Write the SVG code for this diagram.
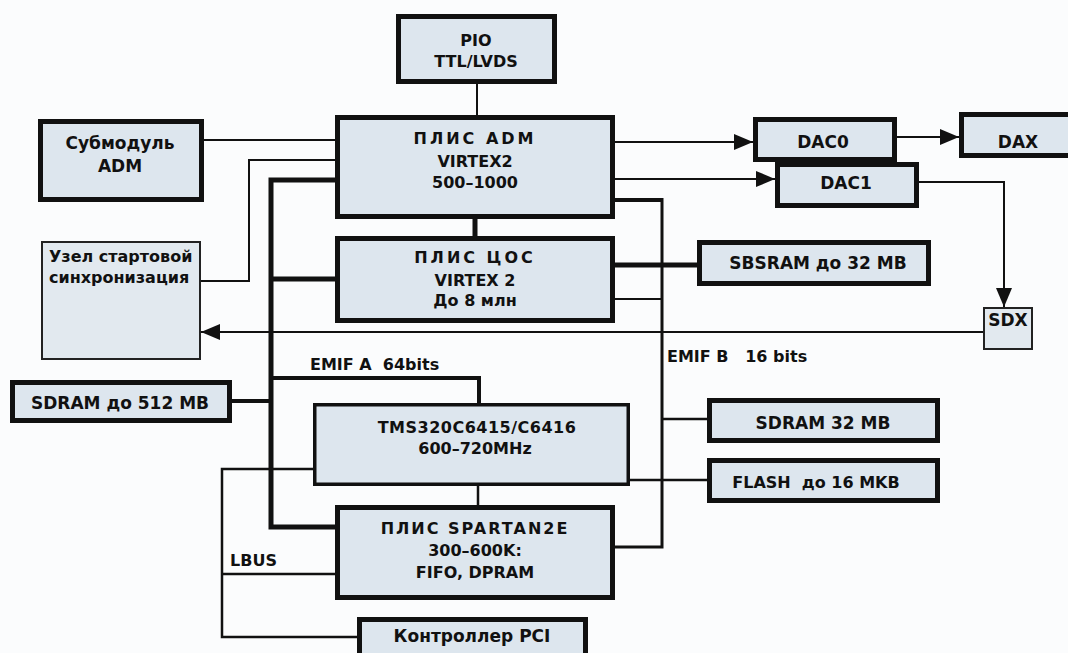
<svg xmlns="http://www.w3.org/2000/svg" width="1068" height="653" viewBox="0 0 1068 653">
<defs>
<style>
.box{fill:#dde6ee;stroke:#111;stroke-width:5}
.tms{fill:#dde6ee;stroke:#111;stroke-width:3.5}
.thin{fill:#e2e9ef;stroke:#222;stroke-width:2}
.t{font-family:"DejaVu Sans","Liberation Sans",sans-serif;font-weight:bold;font-size:17px;fill:#111;text-anchor:middle;white-space:pre}
.m{font-size:16px}
.l{text-anchor:start}
.w{stroke:#111;fill:none;stroke-linejoin:miter}
</style>
<marker id="ah" markerUnits="userSpaceOnUse" markerWidth="20" markerHeight="18" refX="19" refY="8" orient="auto">
<path d="M0,0 L19,8 L0,16 Z" fill="#111"/>
</marker>
</defs>
<rect width="1068" height="653" fill="#fbfcfd"/>
<g id="connectors">
<line class="w" x1="477" y1="84" x2="477" y2="115" stroke-width="2"/>
<line class="w" x1="204" y1="140" x2="335" y2="140" stroke-width="2"/>
<polyline class="w" points="201,281 249,281 249,160 335,160" stroke-width="2"/>
<polyline class="w" points="335,180 271,180 271,527 335,527" stroke-width="5"/>
<line class="w" x1="271" y1="279" x2="335" y2="279" stroke-width="5"/>
<polyline class="w" points="271,378 479,378 479,403" stroke-width="4"/>
<line class="w" x1="232" y1="401" x2="271" y2="401" stroke-width="4"/>
<polyline class="w" points="313,469 222,469 222,637 357,637" stroke-width="2.5"/>
<line class="w" x1="222" y1="574" x2="335" y2="574" stroke-width="2.5"/>
<line class="w" x1="478" y1="486" x2="478" y2="505" stroke-width="2.5"/>
<line class="w" x1="475" y1="219" x2="475" y2="236" stroke-width="5"/>
<line class="w" x1="615" y1="142" x2="753" y2="142" stroke-width="2" marker-end="url(#ah)"/>
<line class="w" x1="615" y1="179" x2="775" y2="179" stroke-width="2" marker-end="url(#ah)"/>
<line class="w" x1="897" y1="137" x2="959" y2="137" stroke-width="2" marker-end="url(#ah)"/>
<polyline class="w" points="919,182 1004,182 1004,307" stroke-width="2" marker-end="url(#ah)"/>
<line class="w" x1="983" y1="332" x2="201" y2="332" stroke-width="2" marker-end="url(#ah)"/>
<polyline class="w" points="615,200 662,200" stroke-width="4"/>
<polyline class="w" points="662,198 662,547 615,547" stroke-width="3"/>
<line class="w" x1="615" y1="299" x2="662" y2="299" stroke-width="2"/>
<line class="w" x1="615" y1="265" x2="697" y2="265" stroke-width="5"/>
<line class="w" x1="662" y1="419" x2="707" y2="419" stroke-width="2.5"/>
<line class="w" x1="630" y1="480" x2="707" y2="480" stroke-width="2.5"/>
<text class="t l m" x="310" y="370" font-size="15" xml:space="preserve">EMIF A  64bits</text>
<text class="t l m" x="667" y="362" font-size="15" xml:space="preserve">EMIF B   16 bits</text>
<text class="t l m" x="230" y="566">LBUS</text>
</g>
<g id="pio"><rect class="box" x="398.5" y="16.5" width="156" height="65"/>
<text class="t m" x="476" y="46">PIO</text><text class="t m" x="476" y="67">TTL/LVDS</text></g>
<g id="submodule"><rect class="box" x="40.5" y="121.5" width="161" height="78"/>
<text class="t" x="120" y="149">Субмодуль</text><text class="t" x="120" y="172">ADM</text></g>
<g id="adm"><rect class="box" x="337.5" y="117.5" width="275" height="99"/>
<text class="t m" x="475" y="144" letter-spacing="3">ПЛИС ADM</text><text class="t m" x="475" y="167">VIRTEX2</text><text class="t m" x="475" y="188">500–1000</text></g>
<g id="dsp"><rect class="box" x="337.5" y="238.5" width="275" height="82"/>
<text class="t m" x="475" y="263" letter-spacing="3">ПЛИС ЦОС</text><text class="t m" x="475" y="286">VIRTEX 2</text><text class="t m" x="475" y="306">До 8 млн</text></g>
<g id="sync"><rect class="thin" x="42" y="242" width="158" height="117"/>
<text class="t l m" x="49" y="262">Узел стартовой</text><text class="t l m" x="49" y="283">синхронизация</text></g>
<g id="dac0"><rect class="box" x="755.5" y="119.5" width="139" height="40"/>
<text class="t" x="823" y="148">DAC0</text></g>
<g id="dac1"><rect class="box" x="777.5" y="164.5" width="139" height="41"/>
<text class="t" x="846" y="189">DAC1</text></g>
<g id="dax"><rect class="box" x="961.5" y="114.5" width="112" height="41"/>
<text class="t" x="1018" y="148">DAX</text></g>
<g id="sbsram"><rect class="box" x="699.5" y="242.5" width="229" height="41"/>
<text class="t" x="818" y="269">SBSRAM до 32 MB</text></g>
<g id="sdx"><rect class="thin" x="984" y="308" width="48" height="41"/>
<text class="t" x="1008" y="326" font-size="12">SDX</text></g>
<g id="sdram512"><rect class="box" x="12.5" y="382.5" width="217" height="38"/>
<text class="t" x="120" y="409">SDRAM до 512 MB</text></g>
<g id="tms"><rect class="tms" x="314.75" y="404.75" width="313.5" height="79.5"/>
<text class="t m" x="477" y="433" letter-spacing="0.5">TMS320C6415/C6416</text><text class="t m" x="475" y="454">600–720MHz</text></g>
<g id="sdram32"><rect class="box" x="709.5" y="400.5" width="228" height="40"/>
<text class="t" x="823" y="429">SDRAM 32 MB</text></g>
<g id="flash"><rect class="box" x="709.5" y="460.5" width="228" height="40"/>
<text class="t m" x="816" y="488" xml:space="preserve">FLASH  до 16 MKB</text></g>
<g id="spartan"><rect class="box" x="337.5" y="507.5" width="275" height="90"/>
<text class="t m" x="475" y="534" letter-spacing="2">ПЛИС SPARTAN2E</text><text class="t m" x="475" y="556">300–600K:</text><text class="t m" x="475" y="578">FIFO, DPRAM</text></g>
<g id="pci"><rect class="box" x="359.5" y="619.5" width="226" height="40"/>
<text class="t" x="472" y="642">Контроллер PCI</text></g>
</svg>
